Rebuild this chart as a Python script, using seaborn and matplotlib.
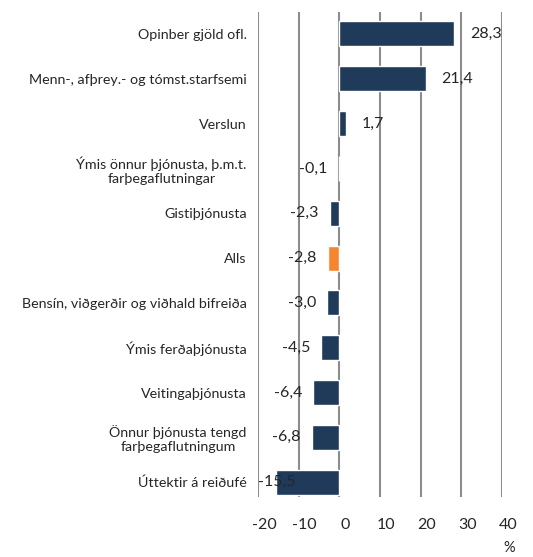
"Breyting á kortaveltu eftir útgjaldaliðum"

import numpy as np
import pandas as pd
import matplotlib.pyplot as plt
import matplotlib.transforms as mtransforms
import seaborn as sns

# Data
categories = [
    'Opinber gjöld ofl.',
    'Menn-, afþrey.- og tómst.starfsemi',
    'Verslun',
    'Ýmis önnur þjónusta, þ.m.t.\nfarþegaflutningar',
    'Gistiþjónusta',
    'Alls',
    'Bensín, viðgerðir og viðhald bifreiða',
    'Ýmis ferðaþjónusta',
    'Veitingaþjónusta',
    'Önnur þjónusta tengd\nfarþegaflutningum',
    'Úttektir á reiðufé',
]
values = [28.3, 21.4, 1.7, -0.1, -2.3, -2.8, -3.0, -4.5, -6.4, -6.8, -15.5]
x_ticks = [-20, -10, 0, 10, 20, 30, 40]

navy = '#203a5a'
orange = '#f5862f'
colors = [orange if c == 'Alls' else navy for c in categories]

df = pd.DataFrame({'cat': categories, 'val': values})

sns.set_style('white')
plt.rcParams['font.family'] = ['Lato', 'DejaVu Sans']

fig = plt.figure(figsize=(5.33, 5.57), dpi=100)
ax = fig.add_axes([0.484, 0.1077, 0.458, 0.8708])

sns.barplot(data=df, x='val', y='cat', hue='cat', palette=colors,
            orient='h', width=0.56, legend=False, saturation=1, ax=ax)

ax.set_xlim(-20, 40)
ax.set_ylim(10.33, -0.49)
ax.set_xticks(x_ticks)
ax.set_xticklabels([str(t) for t in x_ticks])
ax.xaxis.grid(True, color='#8c8c8c', linewidth=1.5)
ax.set_axisbelow(True)
ax.tick_params(axis='x', length=0, pad=15, labelsize=11.5)
ax.tick_params(axis='y', length=0, pad=8, labelsize=10.3)
for lbl in ax.get_yticklabels():
    lbl.set_multialignment('center')
shift = mtransforms.ScaledTranslation(6 / 100, 0, fig.dpi_scale_trans)
for lbl in ax.get_xticklabels():
    lbl.set_transform(lbl.get_transform() + shift)
ax.set_xlabel('')
ax.set_ylabel('')
for s in ax.spines.values():
    s.set_visible(False)

# value labels (comma decimal)
for i, v in enumerate(values):
    txt = f'{v:.1f}'.replace('.', ',')
    if v >= 0:
        ax.annotate(txt, (v, i), xytext=(11, 0), textcoords='offset points',
                    ha='left', va='center', fontsize=11.5)
    elif v < -12:
        ax.annotate(txt, (-20, i), xytext=(0, 0), textcoords='offset points',
                    ha='left', va='center', fontsize=11.5)
    else:
        ax.annotate(txt, (v, i), xytext=(-8, 0), textcoords='offset points',
                    ha='right', va='center', fontsize=11.5)

ax.annotate('%', (40, 0), xycoords=('data', 'axes fraction'),
            xytext=(5, -37), textcoords='offset points',
            ha='center', va='center', fontsize=10.5)

fig.savefig('out.png', dpi=100)
